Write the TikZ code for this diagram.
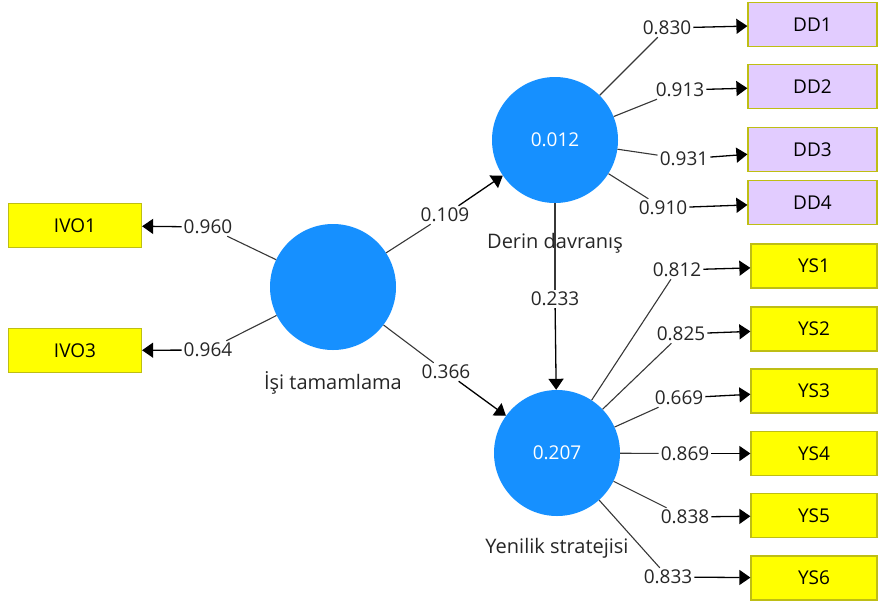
\documentclass[tikz,border=0pt]{standalone}
\usepackage{fontspec}
\setmainfont{Open Sans}
\usetikzlibrary{arrows.meta}
\definecolor{lvblue}{RGB}{22,144,255}
\definecolor{indyellow}{RGB}{255,255,0}
\definecolor{indlilac}{RGB}{226,204,255}
\definecolor{indborder}{RGB}{190,190,20}
\definecolor{pathgray}{RGB}{55,55,55}
\tikzset{
  latent/.style={circle, fill=lvblue, minimum size=126pt, inner sep=0pt,
    text=white, font=\fontsize{19}{22}\selectfont},
  indicator/.style={rectangle, draw=indborder, line width=1.2pt, fill=indyellow,
    minimum width=126pt, minimum height=44pt, inner sep=0pt,
    font=\fontsize{19}{22}\selectfont},
  ddind/.style={indicator, fill=indlilac, minimum width=129pt},
  ivind/.style={indicator, minimum width=133pt},
  coef/.style={inner sep=2pt, font=\fontsize{19}{22}\selectfont, text=black!85},
  lvname/.style={font=\fontsize{20}{23}\selectfont, text=black!85},
  link/.style={draw=pathgray, line width=1.1pt},
  arr/.style={draw=black, line width=1.3pt, -{Triangle[length=11pt, width=15pt]}}
}
\begin{document}
\begin{tikzpicture}[x=1pt, y=-1pt]
\useasboundingbox (0,0) rectangle (878,606);

% latent variables
\node[latent] (isi) at (333,287) {};
\node[latent] (derin) at (555,140) {0.012};
\node[latent] (yen) at (557,453) {0.207};
\node[lvname] (isiN) at (333,383) {İşi tamamlama};
\node[lvname] (derinN) at (555,243) {Derin davranış};
\node[lvname] (yenN) at (557,548) {Yenilik stratejisi};

% indicators
\node[ivind] (ivo1) at (75,225.5) {IVO1};
\node[ivind] (ivo3) at (75,350.5) {IVO3};
\node[ddind] (dd1) at (812.5,24.5) {DD1};
\node[ddind] (dd2) at (812.5,86.5) {DD2};
\node[ddind] (dd3) at (812.5,149.5) {DD3};
\node[ddind] (dd4) at (812.5,202.5) {DD4};
\node[indicator] (ys1) at (814,266) {YS1};
\node[indicator] (ys2) at (814,329) {YS2};
\node[indicator] (ys3) at (814,391) {YS3};
\node[indicator] (ys4) at (814,453.5) {YS4};
\node[indicator] (ys5) at (814,515.5) {YS5};
\node[indicator] (ys6) at (814,578) {YS6};

% outer loadings
\node[coef] (c960) at (208,227) {0.960};
\node[coef] (c964) at (208,350) {0.964};
\node[coef] (c830) at (667,28) {0.830};
\node[coef] (c913) at (680,90) {0.913};
\node[coef] (c931) at (684,159) {0.931};
\node[coef] (c910) at (663,208) {0.910};
\node[coef] (c812) at (677,270) {0.812};
\node[coef] (c825) at (681,334) {0.825};
\node[coef] (c669) at (679,398) {0.669};
\node[coef] (c869) at (685,453.5) {0.869};
\node[coef] (c838) at (685,517) {0.838};
\node[coef] (c833) at (668,577) {0.833};

% path coefficients
\node[coef] (c109) at (445,215) {0.109};
\node[coef] (c366) at (446,372) {0.366};
\node[coef] (c233) at (555,299) {0.233};

% structural paths
\path[link] (isi) -- (c109);
\path[arr] (c109) -- (derin);
\path[link] (isi) -- (c366);
\path[arr] (c366) -- (yen);
\path[link] (derin) -- (c233);
\path[arr] (c233) -- (yen);

% measurement paths
\foreach \lv/\c/\ind in {isi/c960/ivo1, isi/c964/ivo3,
    derin/c830/dd1, derin/c913/dd2, derin/c931/dd3, derin/c910/dd4,
    yen/c812/ys1, yen/c825/ys2, yen/c669/ys3, yen/c869/ys4,
    yen/c838/ys5, yen/c833/ys6}{
  \path[link] (\lv) -- (\c);
  \path[arr] (\c) -- (\ind);
}
\end{tikzpicture}
\end{document}
